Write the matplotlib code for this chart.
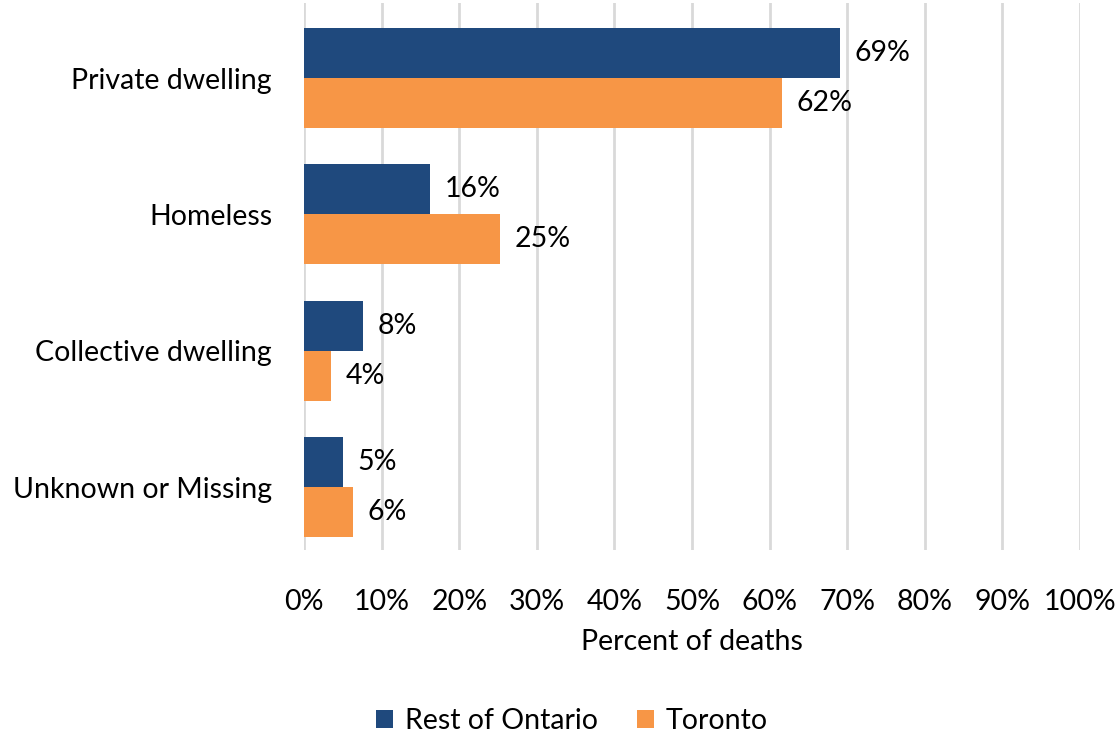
import numpy as np
import matplotlib.pyplot as plt

# Place of residence at time of death
categories = ['Private dwelling', 'Homeless', 'Collective dwelling', 'Unknown or Missing']
rest_of_ontario = [69.1, 16.2, 7.6, 5.0]
toronto = [61.6, 25.3, 3.5, 6.3]
series_names = ['Rest of Ontario', 'Toronto']
colors = ['#1F497D', '#F79646']
x_ticks = list(range(0, 101, 10))

plt.rcParams['font.family'] = ['Lato', 'DejaVu Sans']
fs = 20.5

fig = plt.figure(figsize=(11.2, 7.34), dpi=100)
ax = fig.add_axes([304 / 1120, 1 - 550 / 734, 776 / 1120, 547 / 734])

y = np.arange(len(categories))
h = 0.367
bars1 = ax.barh(y - h / 2, rest_of_ontario, height=h, color=colors[0], label=series_names[0], zorder=3)
bars2 = ax.barh(y + h / 2, toronto, height=h, color=colors[1], label=series_names[1], zorder=3)

for bars, vals in [(bars1, rest_of_ontario), (bars2, toronto)]:
    for b, v in zip(bars, vals):
        ax.text(v + 1.9, b.get_y() + b.get_height() / 2, f'{v:.0f}%',
                va='center', ha='left', fontsize=fs, color='#000000')

ax.set_xlim(0, 100)
ax.set_ylim(len(categories) - 1 + 0.46, -0.55)
ax.set_xticks(x_ticks)
ax.set_xticklabels([f'{t}%' for t in x_ticks])
ax.set_yticks(y)
ax.set_yticklabels(categories)
ax.tick_params(axis='both', length=0, labelsize=fs, colors='#000000')
ax.tick_params(axis='x', pad=28)
ax.tick_params(axis='y', pad=23)
ax.grid(axis='x', color='#D9D9D9', linewidth=2, zorder=0)
for s in ax.spines.values():
    s.set_visible(False)

ax.set_xlabel('Percent of deaths', fontsize=fs, labelpad=10)

fig.legend(handles=[bars1, bars2], labels=series_names, loc='center',
           bbox_to_anchor=(572 / 1120, 1 - 721 / 734), ncol=2, frameon=False,
           fontsize=fs, handlelength=0.6, handleheight=0.6, columnspacing=1.4,
           handletextpad=0.4)

fig.savefig('out.png', dpi=100)
